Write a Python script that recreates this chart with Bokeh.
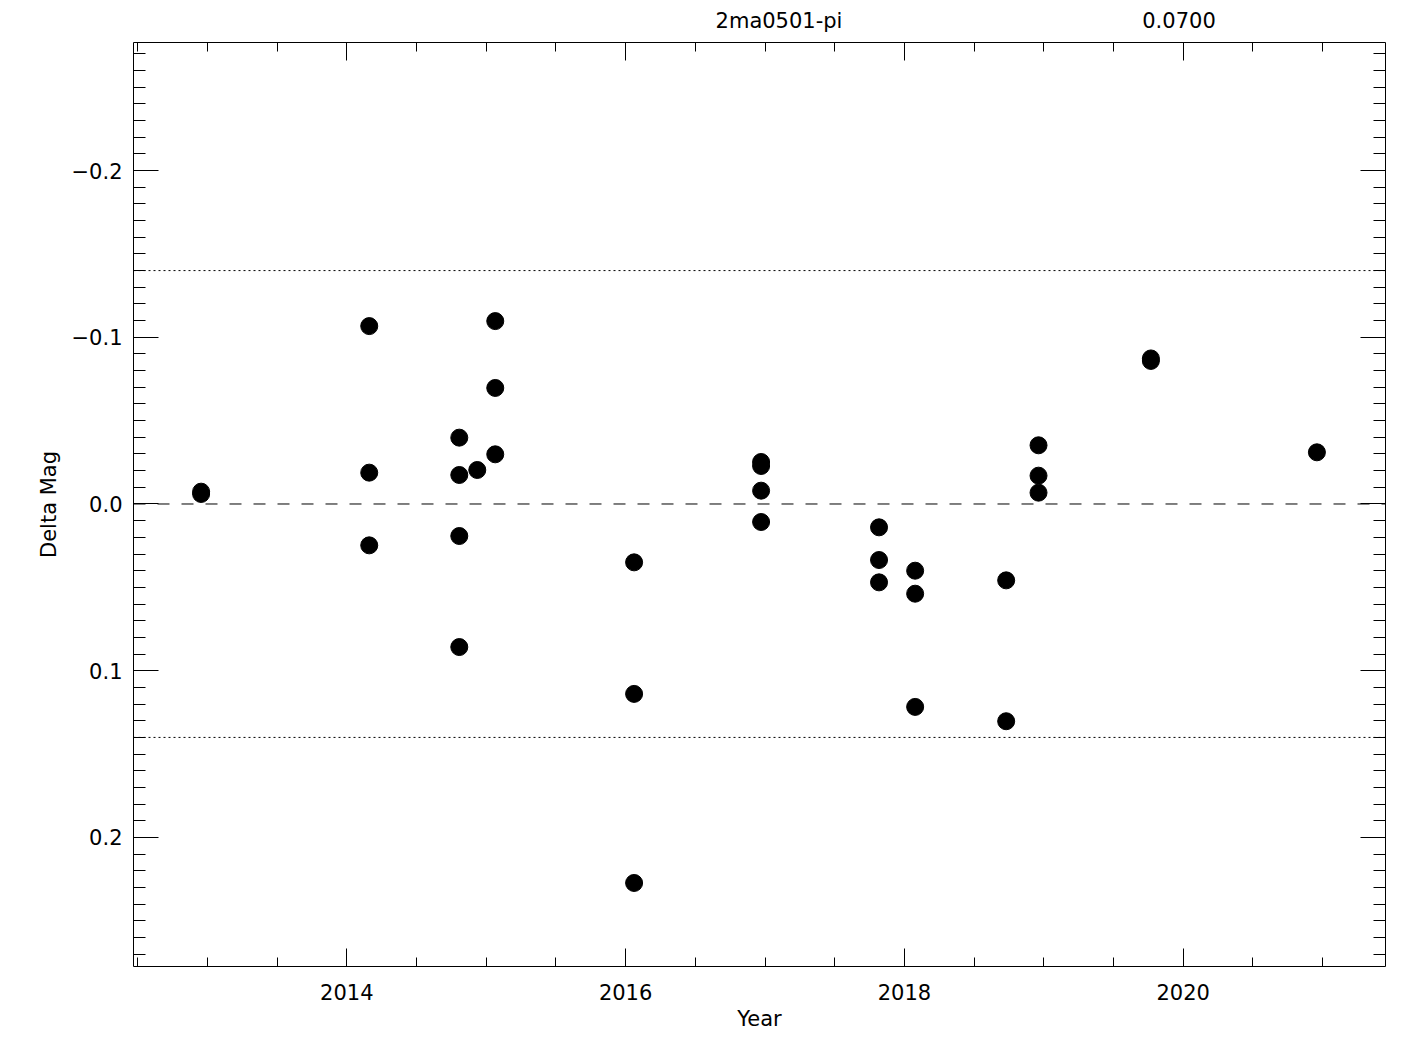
from bokeh.plotting import figure
from bokeh.layouts import column
from bokeh.models import (Range1d, LinearAxis, SingleIntervalTicker, CustomJSTickFormatter,
                          Span, Div, ColumnDataSource)
from bokeh.embed import file_html
from bokeh.resources import INLINE

# ---- data ----
year = [2012.955, 2012.955,
        2014.161, 2014.161, 2014.161,
        2014.807, 2014.807, 2014.807, 2014.807,
        2014.936,
        2015.065, 2015.065, 2015.065,
        2016.061, 2016.061, 2016.061,
        2016.972, 2016.972, 2016.972, 2016.972,
        2017.818, 2017.818, 2017.818,
        2018.077, 2018.077, 2018.077,
        2018.730, 2018.730,
        2018.962, 2018.962, 2018.962,
        2019.768, 2019.768,
        2020.959]
delta_mag = [-0.0074, -0.0060,
             -0.1067, -0.0188, 0.0248,
             -0.0398, -0.0174, 0.0192, 0.0858,
             -0.0204,
             -0.1097, -0.0696, -0.0298,
             0.0350, 0.1139, 0.2273,
             -0.0252, -0.0228, -0.0080, 0.0108,
             0.0140, 0.0336, 0.0470,
             0.0400, 0.0538, 0.1217,
             0.0458, 0.1303,
             -0.0352, -0.0170, -0.0068,
             -0.0873, -0.0858,
             -0.0310]
limit = 0.14
star_name = "2ma0501-pi"
scatter_text = "0.0700"

FONT = "DejaVu Sans"
HEADER_H = 42

p = figure(width=1409, height=1034 - HEADER_H, output_backend="svg", toolbar_location=None,
           x_range=Range1d(2012.470, 2021.451), y_range=Range1d(0.2774, -0.2768),
           x_axis_location=None, y_axis_location=None,
           min_border_left=133, min_border_right=24, min_border_top=0, min_border_bottom=68,
           margin=0)
p.xgrid.visible = False
p.ygrid.visible = False
p.outline_line_color = None
p.background_fill_color = "white"
p.border_fill_color = "white"

yfmt = CustomJSTickFormatter(code="""
    var s = Math.abs(tick).toFixed(1);
    return (tick < -1e-9 ? "\u2212" : "") + s;
""")
blank = CustomJSTickFormatter(code='return "";')


def style_common(ax):
    ax.axis_line_color = "black"
    ax.major_tick_line_color = "black"
    ax.minor_tick_line_color = "black"
    ax.major_label_text_font = FONT
    ax.major_label_text_color = "black"
    ax.major_label_text_font_size = "21px"
    ax.major_tick_out = 0
    ax.minor_tick_out = 0


def style_x(ax, labels):
    style_common(ax)
    ax.ticker = SingleIntervalTicker(interval=2, num_minor_ticks=4)
    ax.major_tick_in = 18
    ax.minor_tick_in = 9
    if labels:
        ax.major_label_standoff = 17
    else:
        ax.formatter = blank
        ax.major_label_standoff = 0


def style_y(ax, labels):
    style_common(ax)
    ax.ticker = SingleIntervalTicker(interval=0.1, num_minor_ticks=10)
    ax.major_tick_in = 25
    ax.minor_tick_in = 12
    if labels:
        ax.formatter = yfmt
        ax.major_label_standoff = 11
    else:
        ax.formatter = blank
        ax.major_label_standoff = 0


bottom = LinearAxis(axis_label="Year")
style_x(bottom, True)
bottom.axis_label_text_font = FONT
bottom.axis_label_text_font_size = "21px"
bottom.axis_label_text_font_style = "normal"
bottom.axis_label_text_color = "black"
bottom.axis_label_standoff = 4
top = LinearAxis()
style_x(top, False)
left = LinearAxis(axis_label="Delta Mag")
style_y(left, True)
left.axis_label_text_font = FONT
left.axis_label_text_font_size = "21px"
left.axis_label_text_font_style = "normal"
left.axis_label_text_color = "black"
left.axis_label_standoff = 8
right = LinearAxis()
style_y(right, False)

p.add_layout(bottom, "below")
p.add_layout(top, "above")
p.add_layout(left, "left")
p.add_layout(right, "right")

# reference lines
p.add_layout(Span(location=0.0, dimension="width", line_color="black", line_width=1, line_dash="12 12"))
p.add_layout(Span(location=-limit, dimension="width", line_color="black", line_width=1, line_dash="2 3"))
p.add_layout(Span(location=limit, dimension="width", line_color="black", line_width=1, line_dash="2 3"))

src = ColumnDataSource(dict(x=year, y=delta_mag))
p.scatter("x", "y", source=src, size=17, marker="circle", fill_color="black", line_color="black")

# header texts above the frame
span_style = ("position:absolute;top:21px;transform:translate(-50%,-50%);white-space:nowrap;"
              "font-family:'DejaVu Sans';font-size:21px;color:black;")
header_html = (
    f'<div style="position:relative;width:1409px;height:{HEADER_H}px;">'
    f'<span style="{span_style}left:779px;">{star_name}</span>'
    f'<span style="{span_style}left:1179px;">{scatter_text}</span>'
    '</div>'
)
header = Div(text=header_html, width=1409, height=HEADER_H, margin=0)

layout = column(header, p, spacing=0, margin=0)
open("out.html", "w").write(file_html(layout, INLINE))
